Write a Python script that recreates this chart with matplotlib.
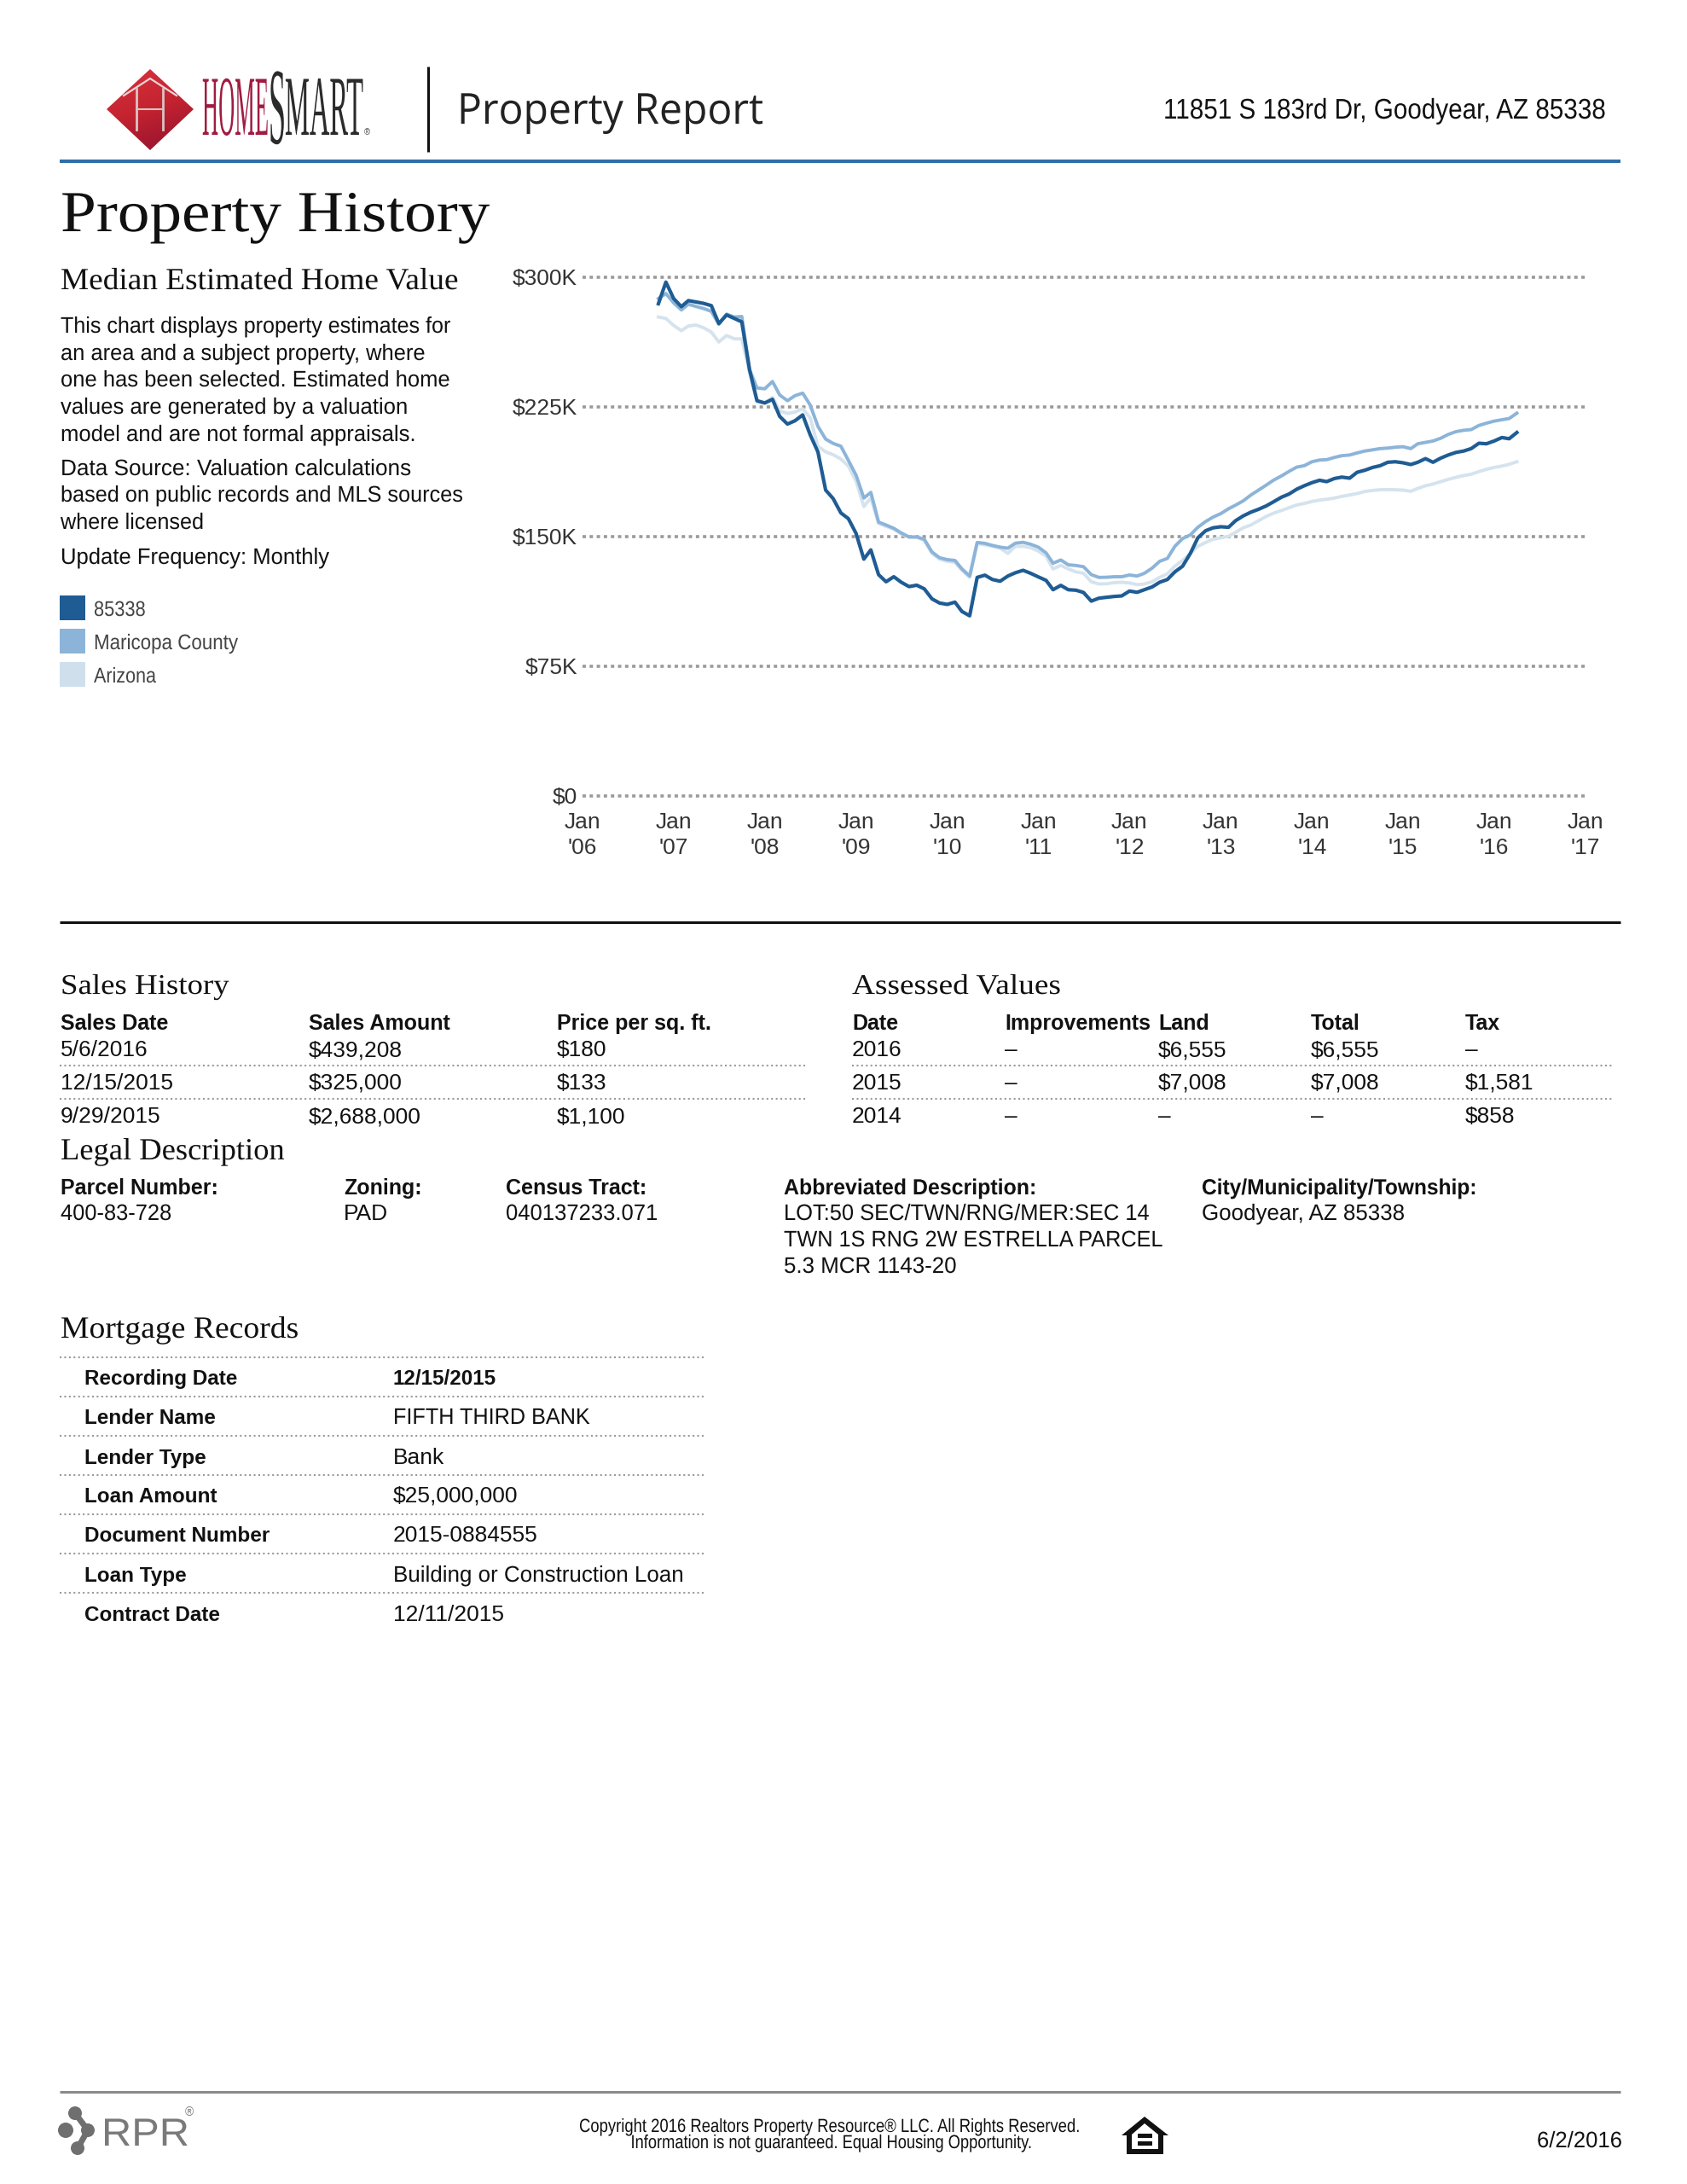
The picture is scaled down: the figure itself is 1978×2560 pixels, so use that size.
import numpy as np
import pandas as pd
import matplotlib
matplotlib.use("Agg")
import matplotlib.pyplot as plt
import matplotlib.patheffects as pe
from matplotlib.patches import Polygon, Rectangle, Circle
from matplotlib.transforms import Affine2D

# monthly values in $K
dates = pd.date_range("2006-11-01", periods=114, freq="MS")
zip_85338 = [284.7, 297.2, 287.7, 283, 286.5, 285.7, 284.9, 283.6, 273.2, 278.2, 276.2, 274.2,
             246.6, 228.6, 227.3, 229.4, 219.5, 215.1, 217, 220.4, 208.9, 199, 176.9, 172,
             163.7, 160.4, 151.8, 137, 142.3, 128, 123.9, 126.8, 123.6, 121.1, 121.9, 119.8,
             114, 111.6, 110.8, 112.1, 106.7, 104.2, 126.4, 127.7, 125.2, 124.2, 127.2, 129.1,
             130.5, 128.8, 126.7, 124.7, 119.3, 121.8, 119.3, 119, 117.7, 112.7, 114.4, 114.9,
             115.4, 115.7, 118.5, 117.8, 119.3, 120.9, 123.6, 125.2, 129.6, 132.9, 140.3, 149.3,
             153.4, 155.1, 155.7, 155.4, 159.2, 162, 164.1, 165.8, 167.7, 170.2, 172.8, 174.6,
             177.4, 179.4, 181.2, 182.6, 181.8, 183.6, 184.4, 183.8, 187.2, 188.4, 190, 191,
             193, 193.3, 192.7, 191.7, 193, 195.1, 193, 195.4, 197.2, 198.7, 199.5, 200.9,
             204, 203.7, 205.3, 207.3, 206.6, 210.2]
maricopa = [287.7, 290.6, 285.2, 281.1, 284.4, 283.1, 281.9, 280.3, 272.9, 278.7, 277, 277.3,
            246.6, 236, 235.5, 239.7, 231.9, 228.6, 231.5, 233, 226.1, 213.8, 206.4, 203.9,
            202.3, 194.1, 185.5, 172.3, 175.6, 158.4, 156.7, 154.8, 152.1, 149.8, 149.8, 148.5,
            141.1, 137.8, 136.7, 136.2, 131.3, 127.2, 146.6, 146.1, 144.9, 143.9, 143.3, 146.2,
            146.7, 145.6, 143.9, 140.6, 134.6, 136.5, 133.7, 133.3, 132.6, 128, 126.4, 126.5,
            126.8, 126.8, 127.8, 127.2, 128.8, 131.8, 135.7, 137.4, 144.4, 148.9, 151, 155.4,
            158.7, 161.3, 163.3, 166.1, 168.2, 170.7, 174, 176.9, 179.7, 182.7, 185.1, 187.7,
            190.2, 191, 193.3, 194.3, 194.5, 195.8, 196.8, 197.2, 198.4, 199.5, 200.2, 200.9,
            201.2, 201.7, 202, 200.9, 203.7, 204.5, 205.3, 206.9, 209.1, 210.7, 211.5, 211.9,
            214.3, 215.6, 216.8, 217.6, 218.3, 221.4]
arizona = [277, 276.2, 272.1, 269.1, 271.8, 272.4, 270.8, 268.3, 262.6, 266.3, 264.4, 264.4,
           245, 227.8, 227.3, 230.5, 222.8, 221.2, 222, 224, 218.7, 202.3, 199, 197.4,
           194.9, 190.8, 182, 167.4, 172.3, 157.6, 155.9, 154.3, 151.5, 149.7, 149.7, 147.7,
           140.3, 137, 135.7, 135.1, 130.5, 126.4, 146.1, 145.2, 144.4, 143.3, 140.3, 144.4,
           144.4, 143.6, 141.6, 138.7, 131.3, 133.4, 131.3, 129.6, 128.8, 123.9, 122.6, 122.7,
           123.4, 123.6, 123.2, 122.2, 122.6, 123.9, 126.4, 128.5, 132.9, 136.2, 140.3, 144.4,
           146.6, 148.5, 149.3, 150.2, 152.5, 155.1, 156.7, 159.2, 161.6, 163.6, 165.1, 166.7,
           168.3, 169.2, 170.3, 171.1, 171.6, 172.3, 173.3, 174.1, 174.9, 176.1, 176.7, 177.1,
           177.2, 177.1, 176.9, 176.2, 177.9, 179.4, 180.4, 181.8, 183.1, 184.3, 185.3, 186.1,
           187.6, 188.9, 190, 190.8, 191.8, 193.3]

y_ticks = [0, 75, 150, 225, 300]
y_labels = ["$0", "$75K", "$150K", "$225K", "$300K"]
x_years = list(range(2006, 2018))
legend_names = ["85338", "Maricopa County", "Arizona"]
colors = ["#1f5c94", "#8cb4d9", "#cfe0ec"]

paragraph = ["This chart displays property estimates for", "an area and a subject property, where",
             "one has been selected. Estimated home", "values are generated by a valuation",
             "model and are not formal appraisals."]
source = ["Data Source: Valuation calculations", "based on public records and MLS sources", "where licensed"]

sales_head = ["Sales Date", "Sales Amount", "Price per sq. ft."]
sales_rows = [["5/6/2016", "$439,208", "$180"],
              ["12/15/2015", "$325,000", "$133"],
              ["9/29/2015", "$2,688,000", "$1,100"]]
assessed_head = ["Date", "Improvements", "Land", "Total", "Tax"]
assessed_rows = [["2016", "–", "$6,555", "$6,555", "–"],
                 ["2015", "–", "$7,008", "$7,008", "$1,581"],
                 ["2014", "–", "–", "–", "$858"]]
mortgage_labels = ["Recording Date", "Lender Name", "Lender Type", "Loan Amount",
                   "Document Number", "Loan Type", "Contract Date"]
mortgage_values = ["12/15/2015", "FIFTH THIRD BANK", "Bank", "$25,000,000",
                   "2015-0884555", "Building or Construction Loan", "12/11/2015"]

SANS = "Liberation Sans"
SERIF = "Liberation Serif"
W, H = 1978, 2560

plt.rcParams["font.family"] = SANS
fig = plt.figure(figsize=(W / 100, H / 100), dpi=100, facecolor="w")

# page layer in pixel coordinates, y down
page = fig.add_axes([0, 0, 1, 1])
page.set_xlim(0, W)
page.set_ylim(H, 0)
page.axis("off")
renderer = fig.canvas.get_renderer()


class Squeeze(pe.AbstractPathEffect):
    """Narrow a text horizontally about a fixed x (display px)."""
    def __init__(self, sx, x0):
        super().__init__()
        self.sx = sx
        self.x0 = x0

    def draw_path(self, renderer, gc, tpath, affine, rgbFace=None):
        aff = affine + Affine2D().translate(-self.x0, 0).scale(self.sx, 1).translate(self.x0, 0)
        renderer.draw_path(gc, tpath, aff, rgbFace)


def put(x, y, s, size=19, color="#111111", family=SANS, weight="normal", ha="left", w=None):
    t = page.text(x, y, s, fontsize=size, color=color, family=family, weight=weight, ha=ha, va="baseline")
    if w is not None:
        natural = t.get_window_extent(renderer).width
        t.set_path_effects([Squeeze(w / natural, x)])
    return t


def hline(y, x0, x1, color, lw, ls="-"):
    page.plot([x0, x1], [y, y], color=color, lw=lw, ls=ls, solid_capstyle="butt")


def dotted(y, x0, x1):
    hline(y, x0, x1, "#9a9a9a", 1.5, (0, (1, 1.6)))


# --- header ---
grad = np.linspace(0, 1, 64).reshape(-1, 1) * np.ones((64, 64))
grad = (grad + np.linspace(0, 1, 64)[:, None].T * 0.35) / 1.35
im = page.imshow(grad, extent=(125, 227, 176, 81), aspect="auto", zorder=2,
                 cmap=matplotlib.colors.LinearSegmentedColormap.from_list("logo", ["#d9333f", "#c3222f", "#8f1230"]))
diamond = Polygon([(125, 128), (176, 81), (227, 128), (176, 176)], closed=True, transform=page.transData, fc="none", ec="none")
page.add_patch(diamond)
im.set_clip_path(diamond)
page.set_xlim(0, W)
page.set_ylim(H, 0)
page.plot([145, 176, 207], [112, 92, 112], color="#e8d5d5", lw=1.6, zorder=3)
page.plot([160, 160], [104, 152], color="#d8c4c4", lw=2, zorder=3)
page.plot([191, 191], [104, 152], color="#d8c4c4", lw=2, zorder=3)
page.plot([160, 191], [128, 128], color="#d8c4c4", lw=1.5, zorder=3)

put(237, 158, "HOME", 72, "#a01c40", SERIF, w=78)
put(315, 168, "S", 92, "#2b2b2b", SERIF, w=20)
put(334, 158, "MART", 72, "#2b2b2b", SERIF, w=92)
put(427, 158, "®", 7, "#555555")

page.plot([502, 502], [78, 178], color="#111111", lw=2.2, solid_capstyle="butt")
put(536, 145, "Property Report", 36, "#222222", "Open Sans", w=359)
put(1883, 139, "11851 S 183rd Dr, Goodyear, AZ 85338", 24, "#111111", ha="right", w=519)
hline(189, 70, 1900, "#2f6ea8", 2.9)

put(71, 271, "Property History", 49, "#111111", SERIF, w=503)
put(71, 339, "Median Estimated Home Value", 26, "#111111", SERIF, w=466)

# --- left column ---
for y, s, w in zip([390, 422, 453, 485, 517], paragraph, [458, 428, 457, 408, 417]):
    put(71, y, s, w=w)
for y, s, w in zip([557, 588, 620], source, [412, 472, 168]):
    put(71, y, s, w=w)
put(71, 661, "Update Frequency: Monthly", w=315)

for y0, name, c, w in zip([698, 737, 776], legend_names, colors, [61, 169, 73]):
    page.add_patch(Rectangle((70, y0), 30, 29, fc=c, ec="none"))
    put(110, y0 + 24, name, 18, "#444444", w=w)

# --- chart ---
ax = fig.add_axes([683 / W, 1 - 933 / H, 1176 / W, 608 / H])
ax.patch.set_alpha(0)
ax.plot(dates, arizona, color="#d5e3ee", lw=2.8, zorder=3)
ax.plot(dates, maricopa, color=colors[1], lw=2.8, zorder=4)
ax.plot(dates, zip_85338, color=colors[0], lw=3.0, zorder=5)
ax.set_ylim(0, 300)
ax.set_xlim(pd.Timestamp("2006-01-01"), pd.Timestamp("2017-01-01"))
ax.set_yticks(y_ticks)
ax.set_yticklabels(y_labels, fontsize=19, color="#333333")
ax.set_xticks([pd.Timestamp(str(y) + "-01-01") for y in x_years])
ax.set_xticklabels(["Jan\n'" + str(y)[2:] for y in x_years], fontsize=19, color="#333333", linespacing=1.3)
ax.tick_params(axis="y", length=0, pad=4.5)
ax.tick_params(axis="x", length=0, pad=14)
ax.grid(axis="y", color="#9a9a9a", lw=2.6, ls=(0, (1.1, 1.2)), zorder=1)
ax.grid(axis="x", visible=False)
for sp in ax.spines.values():
    sp.set_visible(False)
for lab in ax.get_yticklabels():
    lab.set_clip_on(False)
for line in ax.get_ygridlines():
    line.set_clip_on(False)

hline(1081, 70, 1900, "#111111", 2.2)

# --- sales history ---
put(71, 1165, "Sales History", 24, "#111111", SERIF, w=198)
for x, s in zip([71, 362, 653], sales_head):
    put(x, 1207, s, weight="bold", size=18)
for y, row in zip([1238, 1277, 1316], sales_rows):
    for x, s in zip([71, 362, 653], row):
        put(x, y, s)
dotted(1249, 70, 944)
dotted(1288, 70, 944)

# --- assessed values ---
put(999, 1165, "Assessed Values", 24, "#111111", SERIF, w=245)
cols = [999, 1178, 1358, 1537, 1718]
for x, s in zip(cols, assessed_head):
    put(x, 1207, s, weight="bold", size=18)
for y, row in zip([1238, 1277, 1316], assessed_rows):
    for x, s in zip(cols, row):
        put(x, y, s)
dotted(1249, 999, 1891)
dotted(1288, 999, 1891)

# --- legal description ---
put(71, 1359, "Legal Description", 26, "#111111", SERIF, w=263)
put(71, 1400, "Parcel Number:", 18, weight="bold")
put(71, 1430, "400-83-728", w=130)
put(403, 1400, "Zoning:", 18, weight="bold")
put(403, 1430, "PAD")
put(593, 1400, "Census Tract:", 18, weight="bold")
put(593, 1430, "040137233.071", w=178)
put(919, 1400, "Abbreviated Description:", 18.5, weight="bold", w=297)
put(919, 1430, "LOT:50 SEC/TWN/RNG/MER:SEC 14", w=428)
put(919, 1461, "TWN 1S RNG 2W ESTRELLA PARCEL", w=444)
put(919, 1492, "5.3 MCR 1143-20", w=202)
put(1409, 1400, "City/Municipality/Township:", 18.5, weight="bold", w=323)
put(1409, 1430, "Goodyear, AZ 85338", w=238)

# --- mortgage records ---
put(71, 1568, "Mortgage Records", 26, "#111111", SERIF, w=279)
row_ys = [1623, 1669, 1716, 1761, 1807, 1854, 1900]
for y in [1591, 1637, 1683, 1729, 1775, 1821, 1867]:
    dotted(y, 70, 828)
for i, (y, lab, val) in enumerate(zip(row_ys, mortgage_labels, mortgage_values)):
    put(99, y, lab, 17.5, weight="bold")
    if i == 0:
        put(461, y, val, 17.5, weight="bold")
    elif i == 1:
        put(461, y, val, w=230)
    elif i == 5:
        put(461, y, val, w=341)
    else:
        put(461, y, val)

# --- footer ---
hline(2452, 70, 1900, "#8a8a8a", 2.2)
for cx, cy, r in [(77, 2497, 9), (88, 2477, 8), (91, 2518, 8), (103, 2497, 8)]:
    page.add_patch(Circle((cx, cy), r, fc="#6f6f6f", ec="none"))
page.plot([88, 103, 91], [2477, 2497, 2518], color="#6f6f6f", lw=5)
put(119, 2515, "RPR", 33, "#7a7a7a", w=103)
put(217, 2480, "®", 10, "#7a7a7a")

put(973, 2499, "Copyright 2016 Realtors Property Resource® LLC. All Rights Reserved.", 16, "#111111", ha="center")
put(975, 2518, "Information is not guaranteed. Equal Housing Opportunity.", 16, "#111111", ha="center")
page.texts[-2].set_path_effects([Squeeze(588 / page.texts[-2].get_window_extent(renderer).width, 973)])
page.texts[-1].set_path_effects([Squeeze(471 / page.texts[-1].get_window_extent(renderer).width, 975)])

# equal housing mark
page.add_patch(Polygon([(1342, 2481), (1370, 2503), (1364, 2503), (1364, 2525), (1321, 2525), (1321, 2503), (1315, 2503)],
                       closed=True, fc="#111111", ec="none"))
page.add_patch(Polygon([(1342, 2489), (1358, 2502), (1358, 2519), (1327, 2519), (1327, 2502)],
                       closed=True, fc="w", ec="none"))
page.add_patch(Rectangle((1334, 2501), 17, 5, fc="#111111", ec="none"))
page.add_patch(Rectangle((1334, 2510), 17, 5, fc="#111111", ec="none"))

put(1902, 2517, "6/2/2016", 19, "#111111", ha="right", w=100)

fig.savefig("out.png", dpi=100, facecolor="w")
